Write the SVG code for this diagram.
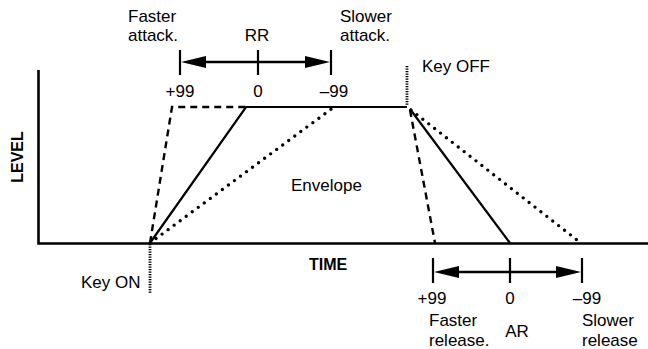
<svg xmlns="http://www.w3.org/2000/svg" width="648" height="349" viewBox="0 0 648 349">
<style>
text{font-family:"Liberation Sans",Arial,sans-serif;font-size:17px;fill:#000}
.b{font-weight:bold;font-size:16px}
.m{text-anchor:middle}
.ax{stroke:#000;stroke-width:2.6;fill:none}
.solid{stroke:#000;stroke-width:2.2;fill:none}
.dash{stroke:#000;stroke-width:2.4;fill:none;stroke-dasharray:7 5}
.dot{stroke:#000;stroke-width:3.4;fill:none;stroke-dasharray:0 7.5;stroke-linecap:round}
.mark{stroke:#000;stroke-width:2.8;fill:none;stroke-dasharray:1.3 1.2}
.tick{stroke:#000;stroke-width:2.2}
.arr{stroke:#000;stroke-width:2.4}
</style>
<g id="axes">
<polyline class="ax" points="38.5,70 38.5,243.5 648,243.5"/>
<text class="b m" transform="translate(23,157) rotate(-90)">LEVEL</text>
<text class="b" x="309" y="270">TIME</text>
</g>
<g id="keyon">
<line class="mark" x1="150" y1="244" x2="150" y2="293"/>
<text x="81" y="288">Key ON</text>
</g>
<g id="keyoff">
<line class="mark" x1="407" y1="66" x2="407" y2="106"/>
<text x="422" y="72">Key OFF</text>
</g>
<g id="envelope">
<polyline class="solid" points="150,243 246,107 407,107"/>
<polyline class="dash" points="150,243 172,107 246,107"/>
<line class="dot" x1="150" y1="243" x2="334" y2="107"/>
<line class="solid" x1="410" y1="109" x2="510" y2="243"/>
<line class="dash" x1="410" y1="110" x2="435" y2="243"/>
<line class="dot" x1="411" y1="110" x2="577" y2="240"/>
<text x="291" y="191">Envelope</text>
</g>
<g id="rr">
<line class="tick" x1="180" y1="50" x2="180" y2="75"/>
<line class="tick" x1="258" y1="50" x2="258" y2="75"/>
<line class="tick" x1="331" y1="50" x2="331" y2="75"/>
<line class="arr" x1="200" y1="62" x2="310" y2="62"/>
<polygon points="181,62 206,56 206,68"/>
<polygon points="330,62 305,56 305,68"/>
<text class="m" x="180" y="97">+99</text>
<text class="m" x="258" y="97">0</text>
<text class="m" x="334" y="97">–99</text>
<text x="128" y="22">Faster</text>
<text x="128" y="41">attack.</text>
<text class="m" x="257" y="41">RR</text>
<text x="340" y="22">Slower</text>
<text x="340" y="41">attack.</text>
</g>
<g id="ar">
<line class="tick" x1="433" y1="258" x2="433" y2="283"/>
<line class="tick" x1="510" y1="258" x2="510" y2="283"/>
<line class="tick" x1="582" y1="258" x2="582" y2="283"/>
<line class="arr" x1="450" y1="272" x2="565" y2="272"/>
<polygon points="434,272 459,266 459,278"/>
<polygon points="581,272 556,266 556,278"/>
<text class="m" x="432" y="304">+99</text>
<text class="m" x="510" y="304">0</text>
<text class="m" x="587" y="304">–99</text>
<text x="429" y="326">Faster</text>
<text x="429" y="346">release.</text>
<text class="m" x="517" y="337">AR</text>
<text x="582" y="326">Slower</text>
<text x="582" y="346">release</text>
</g>
</svg>
